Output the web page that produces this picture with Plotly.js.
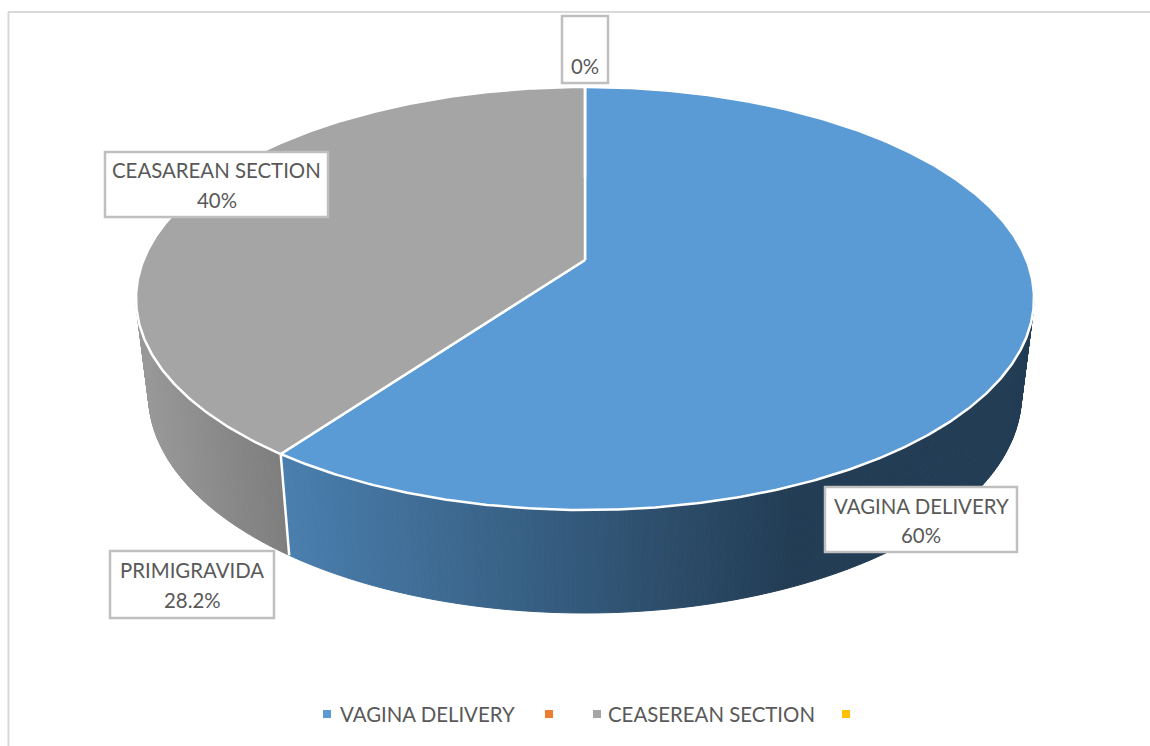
<!DOCTYPE html>
<html>
<head>
<meta charset="utf-8">
<script src="https://cdn.plot.ly/plotly-3.0.1.min.js"></script>
<style>html,body{margin:0;padding:0;background:#fff}#chart{width:1150px;height:746px}</style>
</head>
<body>
<div id="chart"></div>
<script>
// Data
const categories = ['VAGINA DELIVERY', '', 'CEASEREAN SECTION', ''];
const sliceValues = [60, 0, 40, 0];
const sliceColors = ['#5B9BD5', '#ED7D31', '#A5A5A5', '#FFC000'];
const sideLeftColors = [[74, 127, 174], [0,0,0], [154, 154, 154], [0,0,0]];
const sideRightColors = [[35, 61, 85], [0,0,0], [126, 126, 126], [0,0,0]];
const sideGradientSpan = [[285, 790], [0, 1], [138, 285], [0, 1]];

const labelLines = [['VAGINA DELIVERY', '60%'], ['CEASAREAN SECTION', '40%'], ['PRIMIGRAVIDA', '28.2%'], ['0%']];
const labelBoxes = [[825, 487, 1017, 552], [105, 152, 328, 217], [110, 551, 274, 618], [562, 16, 608, 83]];
const labelLineY = [[506, 535], [170, 200], [570, 600], [66]];

const legendText = ['VAGINA DELIVERY', '', 'CEASEREAN SECTION', ''];
const legendSwatchX = [327, 549, 597, 846];
const legendTextX = [340, null, 608, null];
const legendY = 714;

// Geometry of the tilted disc, in picture pixels
const cx = 585, cy = 260, A = 441.5, B = 204.5, K = 0.182;
const rimX = 0.972, rimY = 1.03, rimCy = 355.5;

function topPt(th) {
  const u = Math.sin(th), v = Math.cos(th), d = 1 + K * v;
  return [cx + A * u / d, cy - B * v / d];
}
function rimPt(th) {
  const p = topPt(th);
  return [cx + rimX * (p[0] - cx), rimCy + rimY * (p[1] - cy)];
}

const total = sliceValues.reduce((a, b) => a + b, 0);
const traces = [], faces = [], seams = [];
let acc = 0;
sliceValues.forEach((val, i) => {
  const a0 = acc / total * 2 * Math.PI;
  acc += val;
  const a1 = acc / total * 2 * Math.PI;
  if (val <= 0) return;
  const stepCount = Math.round((a1 - a0) / (Math.PI / 360));
  const dth = (a1 - a0) / stepCount;
  for (let s = 0; s < stepCount; s++) {
    const t0 = a0 + s * dth, t1 = t0 + dth;
    const p0 = topPt(t0), p1 = topPt(t1), q0 = rimPt(t0), q1 = rimPt(t1);
    if (Math.cos((t0 + t1) / 2) > 0.35) continue; // hidden behind the top face
    const mx = (p0[0] + p1[0] + q0[0] + q1[0]) / 4;
    const span = sideGradientSpan[i];
    const f = Math.min(1, Math.max(0, (mx - span[0]) / (span[1] - span[0])));
    const c = sideLeftColors[i].map((l, k) => Math.round(l + f * (sideRightColors[i][k] - l)));
    const col = `rgb(${c[0]},${c[1]},${c[2]})`;
    traces.push({
      type: 'scatter', mode: 'lines', x: [p0[0], p1[0], q1[0], q0[0], p0[0]], y: [p0[1], p1[1], q1[1], q0[1], p0[1]],
      fill: 'toself', fillcolor: col, line: {color: col, width: 1}, hoverinfo: 'skip', showlegend: false
    });
  }
  const xs = [cx], ys = [cy];
  for (let s = 0; s <= stepCount; s++) {
    const p = topPt(a0 + s * dth);
    xs.push(p[0]); ys.push(p[1]);
  }
  xs.push(cx); ys.push(cy);
  faces.push({
    type: 'scatter', mode: 'lines', x: xs, y: ys, fill: 'toself', fillcolor: sliceColors[i],
    line: {color: '#ffffff', width: 2.5}, name: categories[i], hoverinfo: 'name', showlegend: false
  });
  const e0 = topPt(a0), e1 = rimPt(a0);
  seams.push({
    type: 'scatter', mode: 'lines', x: [e0[0], e1[0]], y: [e0[1], e1[1]],
    line: {color: '#ffffff', width: 2.5}, hoverinfo: 'skip', showlegend: false
  });
});

const shapes = [
  {type: 'line', xref: 'x', yref: 'y', x0: 8.5, x1: 8.5, y0: 12, y1: 746, line: {color: '#d9d9d9', width: 2}},
  {type: 'line', xref: 'x', yref: 'y', x0: 8, x1: 1150, y0: 12, y1: 12, line: {color: '#d9d9d9', width: 2}}
];
labelBoxes.forEach(b => shapes.push({
  type: 'rect', xref: 'x', yref: 'y', layer: 'above', x0: b[0], y0: b[1], x1: b[2], y1: b[3],
  fillcolor: '#ffffff', line: {color: '#bfbfbf', width: 2.5}
}));
legendSwatchX.forEach((x, i) => shapes.push({
  type: 'rect', xref: 'x', yref: 'y', layer: 'above', x0: x - 4, x1: x + 4, y0: legendY - 4, y1: legendY + 4,
  fillcolor: sliceColors[i], line: {width: 0}
}));

const font = {family: 'Lato, "Open Sans", sans-serif', size: 20.4, color: '#595959'};
const annotations = [];
labelLines.forEach((lines, i) => lines.forEach((t, j) => annotations.push({
  xref: 'x', yref: 'y', x: (labelBoxes[i][0] + labelBoxes[i][2]) / 2, y: labelLineY[i][j], text: t,
  showarrow: false, xanchor: 'center', yanchor: 'middle', font
})));
legendText.forEach((t, i) => {
  if (!t) return;
  annotations.push({xref: 'x', yref: 'y', x: legendTextX[i], y: legendY, text: t, showarrow: false,
    xanchor: 'left', yanchor: 'middle', xshift: -2, font});
});

const layout = {
  width: 1150, height: 746, margin: {l: 0, r: 0, t: 0, b: 0}, paper_bgcolor: '#ffffff', plot_bgcolor: '#ffffff',
  showlegend: false,
  xaxis: {range: [0, 1150], visible: false, fixedrange: true},
  yaxis: {range: [746, 0], visible: false, fixedrange: true},
  shapes, annotations
};
Plotly.newPlot('chart', traces.concat(faces, seams), layout, {displayModeBar: false, staticPlot: true});
</script>
</body>
</html>
